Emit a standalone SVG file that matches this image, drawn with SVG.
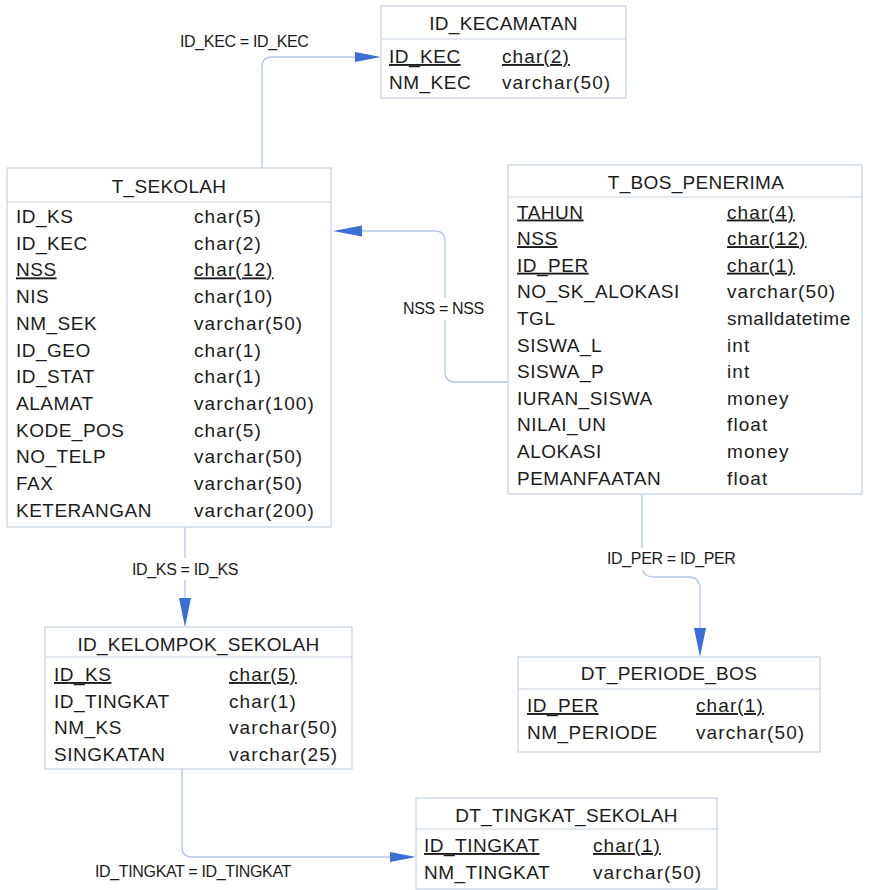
<svg xmlns="http://www.w3.org/2000/svg" width="890" height="890" viewBox="0 0 890 890">
<style>
.box{fill:#fff;stroke:#c3d1e2;stroke-width:1.2}
.div{stroke:#c3d1e2;stroke-width:1.2}
text{font-family:"Liberation Sans",Arial,sans-serif;fill:#1c1c1c}
.h{font-size:19px;text-anchor:middle;letter-spacing:0.3px}
.n{font-size:19px;letter-spacing:0.5px}
.t{font-size:19px;letter-spacing:1.1px}
.pk{text-decoration:underline}
.lbl{font-size:16px;letter-spacing:-0.35px}
.lb{fill:#fff;stroke:none}
.c{fill:none;stroke:#b2c7e6;stroke-width:1.3}
.a{fill:#3c6fd6;stroke:none}
</style>
<g id="connectors">
<path class="c" d="M262,168 V67 Q262,57 272,57 H356"/>
<polygon class="a" points="355,52 381,57 355,62"/>
<path class="c" d="M508,382 H455 Q445,382 445,372 V241 Q445,231 435,231 H362"/>
<polygon class="a" points="362,225.5 333,231 362,236.5"/>
<path class="c" d="M185,527 V598"/>
<polygon class="a" points="179,598 185,627 191,598"/>
<path class="c" d="M642,495 V565 Q642,577 654,577 H688 Q700,577 700,589 V628"/>
<polygon class="a" points="694,628 700,657 706,628"/>
<path class="c" d="M182,769 V847 Q182,857 192,857 H390"/>
<polygon class="a" points="390,852 416,857 390,862"/>
<text class="lbl" x="180" y="47">ID_KEC = ID_KEC</text>
<rect class="lb" x="400" y="298" width="88" height="22"/>
<text class="lbl" x="403" y="314">NSS = NSS</text>
<rect class="lb" x="130" y="558" width="112" height="22"/>
<text class="lbl" x="132" y="575">ID_KS = ID_KS</text>
<rect class="lb" x="604" y="548" width="134" height="22"/>
<text class="lbl" x="607" y="564">ID_PER = ID_PER</text>
<text class="lbl" x="95" y="877">ID_TINGKAT = ID_TINGKAT</text>
</g>
<g id="ID_KECAMATAN">
<rect class="box" x="381" y="6" width="245" height="92"/>
<line class="div" x1="381" y1="39" x2="626" y2="39"/>
<text class="h" x="503.5" y="30">ID_KECAMATAN</text>
<text class="n pk" x="389" y="63">ID_KEC</text><text class="t pk" x="502" y="63">char(2)</text>
<text class="n" x="389" y="89">NM_KEC</text><text class="t" x="502" y="89">varchar(50)</text>
</g>
<g id="T_SEKOLAH">
<rect class="box" x="7" y="168" width="324" height="359"/>
<line class="div" x1="7" y1="202" x2="331" y2="202"/>
<text class="h" x="169" y="193">T_SEKOLAH</text>
<text class="n" x="16" y="223">ID_KS</text><text class="t" x="194" y="223">char(5)</text>
<text class="n" x="16" y="249.7">ID_KEC</text><text class="t" x="194" y="249.7">char(2)</text>
<text class="n pk" x="16" y="276.4">NSS</text><text class="t pk" x="194" y="276.4">char(12)</text>
<text class="n" x="16" y="303.1">NIS</text><text class="t" x="194" y="303.1">char(10)</text>
<text class="n" x="16" y="329.8">NM_SEK</text><text class="t" x="194" y="329.8">varchar(50)</text>
<text class="n" x="16" y="356.5">ID_GEO</text><text class="t" x="194" y="356.5">char(1)</text>
<text class="n" x="16" y="383.2">ID_STAT</text><text class="t" x="194" y="383.2">char(1)</text>
<text class="n" x="16" y="409.9">ALAMAT</text><text class="t" x="194" y="409.9">varchar(100)</text>
<text class="n" x="16" y="436.6">KODE_POS</text><text class="t" x="194" y="436.6">char(5)</text>
<text class="n" x="16" y="463.3">NO_TELP</text><text class="t" x="194" y="463.3">varchar(50)</text>
<text class="n" x="16" y="490">FAX</text><text class="t" x="194" y="490">varchar(50)</text>
<text class="n" x="16" y="516.7">KETERANGAN</text><text class="t" x="194" y="516.7">varchar(200)</text>
</g>
<g id="T_BOS_PENERIMA">
<rect class="box" x="508" y="165" width="354" height="329"/>
<line class="div" x1="508" y1="197" x2="862" y2="197"/>
<text class="h" x="696" y="189">T_BOS_PENERIMA</text>
<text class="n pk" x="517" y="218.5">TAHUN</text><text class="t pk" x="727" y="218.5">char(4)</text>
<text class="n pk" x="517" y="245.1">NSS</text><text class="t pk" x="727" y="245.1">char(12)</text>
<text class="n pk" x="517" y="271.7">ID_PER</text><text class="t pk" x="727" y="271.7">char(1)</text>
<text class="n" x="517" y="298.3">NO_SK_ALOKASI</text><text class="t" x="727" y="298.3">varchar(50)</text>
<text class="n" x="517" y="324.9">TGL</text><text class="t" x="727" y="324.9" style="letter-spacing:0.5px">smalldatetime</text>
<text class="n" x="517" y="351.5">SISWA_L</text><text class="t" x="727" y="351.5">int</text>
<text class="n" x="517" y="378.1">SISWA_P</text><text class="t" x="727" y="378.1">int</text>
<text class="n" x="517" y="404.7">IURAN_SISWA</text><text class="t" x="727" y="404.7">money</text>
<text class="n" x="517" y="431.3">NILAI_UN</text><text class="t" x="727" y="431.3">float</text>
<text class="n" x="517" y="457.9">ALOKASI</text><text class="t" x="727" y="457.9">money</text>
<text class="n" x="517" y="484.5">PEMANFAATAN</text><text class="t" x="727" y="484.5">float</text>
</g>
<g id="ID_KELOMPOK_SEKOLAH">
<rect class="box" x="45" y="627" width="307" height="142"/>
<line class="div" x1="45" y1="657" x2="352" y2="657"/>
<text class="h" x="198.5" y="651">ID_KELOMPOK_SEKOLAH</text>
<text class="n pk" x="54" y="681">ID_KS</text><text class="t pk" x="229" y="681">char(5)</text>
<text class="n" x="54" y="707.7">ID_TINGKAT</text><text class="t" x="229" y="707.7">char(1)</text>
<text class="n" x="54" y="734.4">NM_KS</text><text class="t" x="229" y="734.4">varchar(50)</text>
<text class="n" x="54" y="761">SINGKATAN</text><text class="t" x="229" y="761">varchar(25)</text>
</g>
<g id="DT_PERIODE_BOS">
<rect class="box" x="518" y="657" width="302" height="95"/>
<line class="div" x1="518" y1="689" x2="820" y2="689"/>
<text class="h" x="669" y="680">DT_PERIODE_BOS</text>
<text class="n pk" x="527" y="712">ID_PER</text><text class="t pk" x="696" y="712">char(1)</text>
<text class="n" x="527" y="738.5">NM_PERIODE</text><text class="t" x="696" y="738.5">varchar(50)</text>
</g>
<g id="DT_TINGKAT_SEKOLAH">
<rect class="box" x="416" y="798" width="301" height="91"/>
<line class="div" x1="416" y1="829" x2="717" y2="829"/>
<text class="h" x="566.5" y="822">DT_TINGKAT_SEKOLAH</text>
<text class="n pk" x="424" y="852">ID_TINGKAT</text><text class="t pk" x="593" y="852">char(1)</text>
<text class="n" x="424" y="878.5">NM_TINGKAT</text><text class="t" x="593" y="878.5">varchar(50)</text>
</g>
</svg>
